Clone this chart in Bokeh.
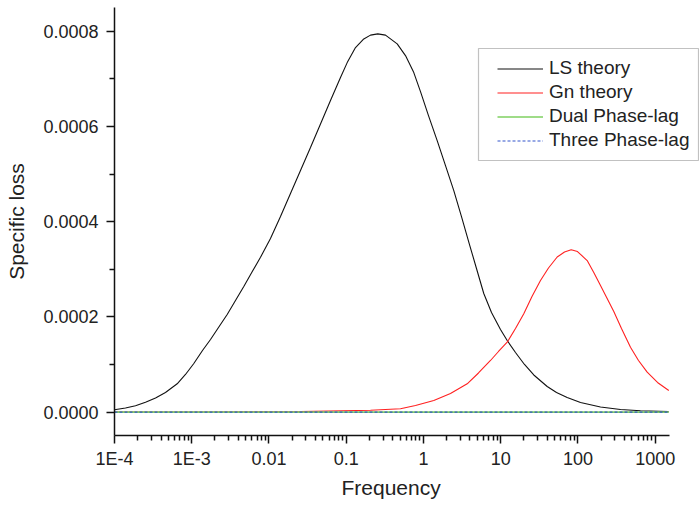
from bokeh.plotting import figure
from bokeh.models import (Range1d, FixedTicker, PrintfTickFormatter, Legend, LegendItem,
                          BoxAnnotation, Title)
from bokeh.embed import file_html
from bokeh.resources import INLINE

# ---------------- data ----------------
ls_freq = [1.0e-4, 1.387e-4, 1.871e-4, 2.52e-4, 3.40e-4, 4.57e-4, 6.48e-4, 8.30e-4,
           1.064e-3, 1.378e-3, 1.750e-3, 2.220e-3, 2.877e-3, 3.685e-3, 4.72e-3, 6.03e-3,
           7.77e-3, 0.01046, 0.01410, 0.01899, 0.02559, 0.03447, 0.04645, 0.06258,
           0.08433, 0.1030, 0.1319, 0.1689, 0.2063, 0.2564, 0.3225, 0.4571, 0.5853,
           0.7499, 0.9157, 1.162, 1.506, 1.930, 2.471, 3.108, 3.981, 4.860, 6.040, 7.603,
           9.94, 12.14, 15.55, 20.33, 26.82, 40.0, 52.8, 72.6, 108.0, 196.0, 355.6,
           645.7, 1488.0]
ls_loss = [5.04e-6, 8.8e-6, 1.365e-5, 2.1e-5, 2.98e-5, 4.14e-5, 5.96e-5, 7.92e-5,
           1.0226e-4, 1.2955e-4, 1.5265e-4, 1.7784e-4, 2.0514e-4, 2.3454e-4, 2.6393e-4,
           2.9438e-4, 3.2545e-4, 3.6472e-4, 4.1091e-4, 4.5920e-4, 5.0749e-4, 5.5579e-4,
           6.0513e-4, 6.5447e-4, 7.0277e-4, 7.3426e-4, 7.6576e-4, 7.8403e-4, 7.9201e-4,
           7.9453e-4, 7.9201e-4, 7.7353e-4, 7.4896e-4, 7.1327e-4, 6.7337e-4, 6.2298e-4,
           5.7049e-4, 5.1799e-4, 4.6550e-4, 4.1091e-4, 3.5002e-4, 3.0173e-4, 2.4923e-4,
           2.0934e-4, 1.7365e-4, 1.5055e-4, 1.2535e-4, 1.0016e-4, 7.811e-5, 5.396e-5,
           4.136e-5, 3.087e-5, 2.037e-5, 1.092e-5, 5.67e-6, 2.94e-6, 1.05e-6]

gn_freq = [1.0e-4, 1.298e-3, 0.02559, 0.2063, 0.5044, 0.7886, 1.361, 2.239, 3.685,
           5.159, 7.379, 9.366, 12.14, 15.55, 19.91, 25.42, 32.75, 41.57, 53.88, 66.99,
           81.8, 98.7, 131.8, 160.4, 196.0, 291.3, 366.4, 479.2, 608.4, 788.2, 1072.0,
           1501.0]
gn_loss = [0.0, 2.1e-7, 1.05e-6, 3.99e-6, 7.14e-6, 1.407e-5, 2.457e-5, 3.926e-5,
           5.963e-5, 8.231e-5, 1.0855e-4, 1.2745e-4, 1.4698e-4, 1.7575e-4, 2.0661e-4,
           2.4294e-4, 2.7653e-4, 3.0278e-4, 3.2587e-4, 3.3637e-4, 3.4099e-4, 3.3742e-4,
           3.1852e-4, 2.9333e-4, 2.6603e-4, 2.1144e-4, 1.7575e-4, 1.3648e-4, 1.0855e-4,
           8.399e-5, 6.236e-5, 4.556e-5]

dpl_freq = [1.0e-4, 1.0e-3, 0.01, 0.1, 1.0, 10.0, 100.0, 1000.0, 1500.0]
dpl_loss = [0.0, 0.0, 0.0, 0.0, 0.0, 0.0, 0.0, 0.0, 0.0]
tpl_freq = [1.0e-4, 1.0e-3, 0.01, 0.1, 1.0, 10.0, 100.0, 1000.0, 1500.0]
tpl_loss = [0.0, 0.0, 0.0, 0.0, 0.0, 0.0, 0.0, 0.0, 0.0]

series_names = ["LS theory", "Gn theory", "Dual Phase-lag", "Three Phase-lag"]

x_ticks = [1e-4, 1e-3, 0.01, 0.1, 1.0, 10.0, 100.0, 1000.0]
x_tick_labels = ["1E-4", "1E-3", "0.01", "0.1", "1", "10", "100", "1000"]
y_ticks = [0.0, 0.0002, 0.0004, 0.0006, 0.0008]
y_minor = [0.0001, 0.0003, 0.0005, 0.0007]

FONT = "Liberation Sans"
TXT = "#222222"

p = figure(width=699, height=506, x_axis_type="log",
           x_range=Range1d(1e-4, 3750), y_range=Range1d(-0.000049, 0.00085),
           output_backend="svg", toolbar_location=None,
           min_border_left=114, min_border_right=0, min_border_top=7, min_border_bottom=71)
p.grid.visible = False
p.outline_line_color = None
p.background_fill_color = "white"
p.border_fill_color = "white"

r_ls = p.line(ls_freq, ls_loss, line_color="#111111", line_width=1.1)
r_gn = p.line(gn_freq, gn_loss, line_color="#ff2020", line_width=1.1)
r_dpl = p.line(dpl_freq, dpl_loss, line_color="#7fd060", line_width=1.6)
r_tpl = p.line(tpl_freq, tpl_loss, line_color="#3355cc", line_width=1.1, line_dash="3 2")

# axes
x_minor = [k * d for d in x_ticks for k in range(2, 10) if k * d <= 1500]
xa = p.xaxis[0]
xa.ticker = FixedTicker(ticks=x_ticks, minor_ticks=x_minor)
xa.major_label_overrides = {t: l for t, l in zip(x_ticks, x_tick_labels)}
xa.bounds = (1e-4, 1520)
ya = p.yaxis[0]
ya.ticker = FixedTicker(ticks=y_ticks, minor_ticks=y_minor)
ya.formatter = PrintfTickFormatter(format="%.4f")

for ax in (xa, ya):
    ax.axis_line_width = 1.5
    ax.axis_line_color = "#111111"
    ax.major_tick_line_width = 1.5
    ax.minor_tick_line_width = 1.5
    ax.major_tick_line_color = "#111111"
    ax.minor_tick_line_color = "#111111"
    ax.major_tick_in = 0
    ax.minor_tick_in = 0
    ax.major_tick_out = 8
    ax.minor_tick_out = 5
    ax.major_label_text_font = FONT
    ax.major_label_text_font_size = "18px"
    ax.major_label_text_color = TXT
    ax.axis_label_text_font = FONT
    ax.axis_label_text_font_size = "21px"
    ax.axis_label_text_font_style = "normal"
    ax.axis_label_text_color = TXT

xa.major_label_standoff = 5
ya.axis_label = "Specific loss"
ya.major_label_standoff = 8
ya.axis_label_standoff = 12

# x-axis title centred on the drawn axis (114..668 px)
xtitle = Title(text="Frequency", align="left", offset=227, standoff=4,
               text_font=FONT, text_font_size="21px", text_font_style="normal",
               text_color=TXT)
p.add_layout(xtitle, "below")

# legend frame (screen units from frame bottom-left)
box = BoxAnnotation(left=364, right=584, bottom=275, top=387,
                    left_units="screen", right_units="screen",
                    bottom_units="screen", top_units="screen",
                    fill_color="white", fill_alpha=1.0,
                    line_color="#333333", line_width=1.2)
p.add_layout(box)

legend = Legend(items=[LegendItem(label=n, renderers=[r]) for n, r in
                       zip(series_names, [r_ls, r_gn, r_dpl, r_tpl])],
                location=(383, 284), padding=0, spacing=2,
                glyph_width=46, glyph_height=21, label_height=21, label_standoff=6,
                label_text_font=FONT, label_text_font_size="19px", label_text_color=TXT,
                border_line_alpha=0, background_fill_alpha=0)
p.add_layout(legend)

open("out.html", "w").write(file_html(p, INLINE))
